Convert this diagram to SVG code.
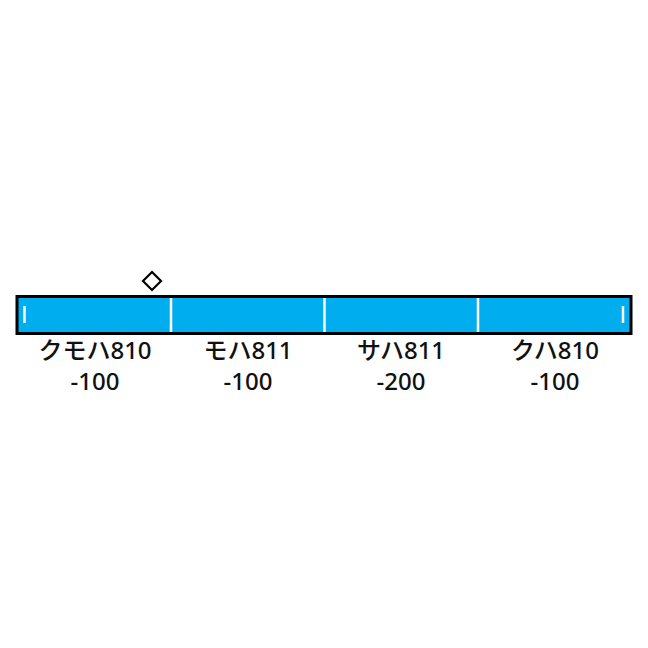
<svg xmlns="http://www.w3.org/2000/svg" width="648" height="648" viewBox="0 0 648 648">
<style>
.lbl{font-family:"Noto Sans","Noto Sans CJK JP",sans-serif;font-size:24px;font-weight:500;fill:#111;text-anchor:middle}
.div{stroke:#fff;stroke-width:2.5}
</style>
<rect width="648" height="648" fill="#fff"/>
<g id="train">
<rect x="17" y="296.5" width="614" height="37" fill="#00adef" stroke="#000" stroke-width="3"/>
<line class="div" x1="171" y1="298" x2="171" y2="332"/>
<line class="div" x1="324.5" y1="298" x2="324.5" y2="332"/>
<line class="div" x1="478" y1="298" x2="478" y2="332"/>
<line class="div" x1="24.5" y1="306" x2="24.5" y2="323"/>
<line class="div" x1="623" y1="306" x2="623" y2="323"/>
</g>
<g id="pantograph">
<polygon points="152,272 161,281 152,290 143,281" fill="#fff" stroke="#000" stroke-width="2.2"/>
</g>
<g id="car1"><text class="lbl" x="95" y="359">クモハ810</text><text class="lbl" x="95" y="390">-100</text></g>
<g id="car2"><text class="lbl" x="248" y="359">モハ811</text><text class="lbl" x="248" y="390">-100</text></g>
<g id="car3"><text class="lbl" x="401" y="359">サハ811</text><text class="lbl" x="401" y="390">-200</text></g>
<g id="car4"><text class="lbl" x="555" y="359">クハ810</text><text class="lbl" x="555" y="390">-100</text></g>
<g id="connectors"></g>
</svg>
